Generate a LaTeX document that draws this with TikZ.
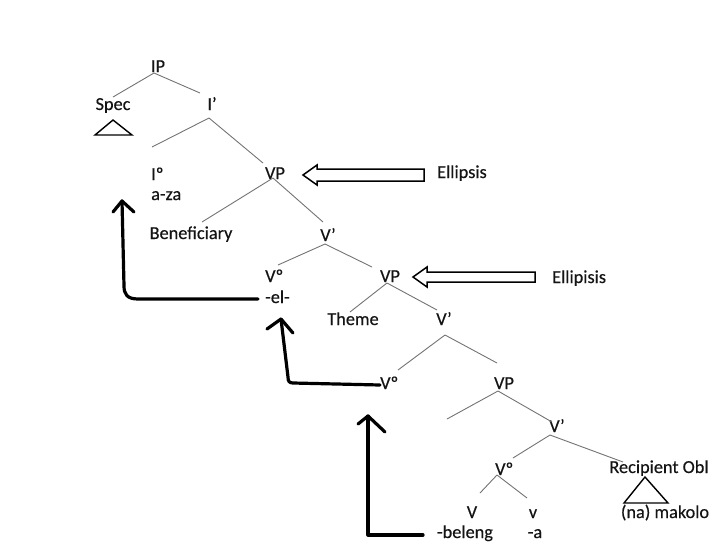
\documentclass[tikz,border=0pt]{standalone}
\usepackage{fontspec}
\setmainfont{Carlito}
\newfontfamily\lblfont{Carlito}[FakeBold=0.35]
\begin{document}
\begin{tikzpicture}[x=1pt,y=-1pt]
\tikzset{
  lbl/.style={inner sep=0pt, anchor=base, text=black!92,
              font=\lblfont\fontsize{18.3}{22}\selectfont},
  lblw/.style={lbl, anchor=base west},
  branch/.style={draw=black!55, line width=0.9pt},
  movearrow/.style={draw=black, line width=3.2pt, line cap=round, line join=round},
  hollow/.style={draw=black, line width=1.5pt, fill=white, line join=miter},
  tri/.style={draw=black, line width=1.4pt, line join=miter}
}
\useasboundingbox (0,0) rectangle (713,547);

% ---- labels of the tree ----
\node[lbl]  (IP)    at (158,72)  {IP};
\node[lbl]  (Spec)  at (113,110) {Spec};
\node[lbl]  (Ibar)  at (212,110) {I’};
\node[lblw] (I0)    at (151,180) {Iº};
\node[lblw] (aza)   at (151,200) {a-za};
\node[lbl]  (VPa)   at (275,179) {VP};
\node[lbl]  (Ben)   at (191,239) {Beneficiary};
\node[lbl]  (Vbara) at (328,241) {V’};
\node[lblw] (V0a)   at (265,282) {Vº};
\node[lblw] (el)    at (265,303) {-el-};
\node[lbl]  (VPb)   at (390,282) {VP};
\node[lbl]  (Theme) at (353,325) {Theme};
\node[lbl]  (Vbarb) at (444,325) {V’};
\node[lblw] (V0b)   at (380,389) {Vº};
\node[lbl]  (VPc)   at (504,389) {VP};
\node[lbl]  (Vbarc) at (557,432) {V’};
\node[lblw] (V0c)   at (495,475) {Vº};
\node[lbl]  (Rec)   at (659,473) {Recipient Obl};
\node[lbl]  (Vr)    at (472,518) {V};
\node[lbl]  (vs)    at (533,518) {v};
\node[lbl]  (bel)   at (465,538) {-beleng};
\node[lbl]  (afa)   at (535,538) {-a};
\node[lbl]  (mak)   at (665,518) {(na) makolo};
\node[lblw] (Ell1)  at (437,178) {Ellipsis};
\node[lblw] (Ell2)  at (552,283) {Ellipisis};

% ---- branch end points ----
\coordinate (IPb)    at (154,73);
\coordinate (Spect)  at (113,97);
\coordinate (Ibart)  at (200,93);
\coordinate (Ibarb)  at (209,118);
\coordinate (I0t)    at (152,147);
\coordinate (VPat)   at (263,163);
\coordinate (VPab)   at (273,178);
\coordinate (Bent)   at (202,222);
\coordinate (Vbarat) at (323,222);
\coordinate (Vbarab) at (325,244);
\coordinate (V0at)   at (278,265);
\coordinate (VPbt)   at (372,267);
\coordinate (VPbb)   at (387,283);
\coordinate (Themet) at (350,312);
\coordinate (Vbarbt) at (437,310);
\coordinate (Vbarbb) at (445,335);
\coordinate (V0bt)   at (398,370);
\coordinate (VPct)   at (497,363);
\coordinate (VPcb)   at (498,391);
\coordinate (SpecV)  at (447,419);
\coordinate (Vbarct) at (552,422);
\coordinate (Vbarcb) at (550,435);
\coordinate (V0ct)   at (513,458);
\coordinate (Rect)   at (623,462);
\coordinate (V0cb)   at (497,475);
\coordinate (Vrt)    at (480,493);
\coordinate (vst)    at (527,498);

% ---- branches ----
\draw[branch] (IPb) -- (Spect);
\draw[branch] (IPb) -- (Ibart);
\draw[branch] (Ibarb) -- (I0t);
\draw[branch] (Ibarb) -- (VPat);
\draw[branch] (VPab) -- (Bent);
\draw[branch] (VPab) -- (Vbarat);
\draw[branch] (Vbarab) -- (V0at);
\draw[branch] (Vbarab) -- (VPbt);
\draw[branch] (VPbb) -- (Themet);
\draw[branch] (VPbb) -- (Vbarbt);
\draw[branch] (Vbarbb) -- (V0bt);
\draw[branch] (Vbarbb) -- (VPct);
\draw[branch] (VPcb) -- (SpecV);
\draw[branch] (VPcb) -- (Vbarct);
\draw[branch] (Vbarcb) -- (V0ct);
\draw[branch] (Vbarcb) -- (Rect);
\draw[branch] (V0cb) -- (Vrt);
\draw[branch] (V0cb) -- (vst);

% ---- triangles ----
\draw[tri] (113,120) -- (132,135) -- (95,135) -- cycle;
\draw[tri] (645,477) -- (668,503) -- (624,503) -- cycle;

% ---- hollow arrows pointing to the elided phrases ----
\coordinate (tipA) at (303,175);
\coordinate (tipB) at (413,277);
\draw[hollow] (tipA) -- ++(14,-10) -- ++(0,4) -- ++(107,0) -- ++(0,12)
              -- ++(-107,0) -- ++(0,4) -- cycle;
\draw[hollow] (tipB) -- ++(14,-10) -- ++(0,5) -- ++(108,0) -- ++(0,10)
              -- ++(-108,0) -- ++(0,5) -- cycle;

% ---- head movement arrows ----
\coordinate (elL)   at (258,299);
\coordinate (upA)   at (122,201);
\draw[movearrow] (elL) -- (138,299) .. controls (127,299) and (124,294) .. (124,286) -- (upA);
\draw[movearrow] (113,212) -- (upA) -- (134,212);

\coordinate (V0bL)  at (380,385);
\coordinate (upB)   at (281,319);
\draw[movearrow] (V0bL) -- (293,383) .. controls (289,383) and (288,381) .. (288,377) -- (upB);
\draw[movearrow] (267,329) -- (upB) -- (293,333);

\coordinate (belL)  at (423,535);
\coordinate (upC)   at (368,416);
\draw[movearrow] (belL) -- (368,535) -- (upC);
\draw[movearrow] (358,424) -- (upC) -- (385,432);
\end{tikzpicture}
\end{document}
